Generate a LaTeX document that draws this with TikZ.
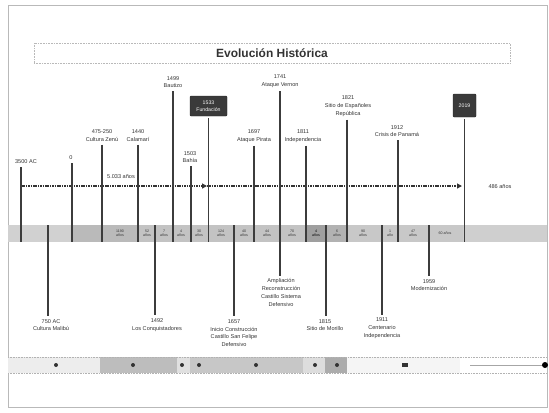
\documentclass[tikz,border=0pt]{standalone}
\usepackage{fontspec}
\setmainfont{Liberation Sans}
\usetikzlibrary{arrows.meta}
\definecolor{linegray}{HTML}{3C3C3C}
\definecolor{txtgray}{HTML}{333333}
\definecolor{boxdark}{HTML}{3A3A3A}
\begin{document}
\begin{tikzpicture}[x=1bp,y=-1bp,
  evline/.style={draw=linegray,line width=1.6bp},
  lbl/.style={font=\fontsize{5.6}{7.8}\selectfont,text=txtgray,align=center,inner sep=0pt},
  seglbl/.style={font=\fontsize{3.6}{4.4}\selectfont,text=txtgray,align=center,inner sep=0pt},
  darkbox/.style={fill=boxdark,draw=black!85,rounded corners=1bp,text=white,
     font=\fontsize{5.2}{6.6}\selectfont,align=center,inner sep=0pt},
  axisline/.style={draw=txtgray,line width=1.2bp,dash pattern=on 1.6bp off 0.8bp,
     -{Triangle[length=5bp,width=5bp]}},
  dot/.style={fill=txtgray}]
\useasboundingbox (0,0) rectangle (549,412);
% frame
\draw[gray!55,line width=0.8bp] (8,5) rectangle (547,407);
% title
\node[draw=gray!55,densely dotted,line width=0.6bp,minimum width=476bp,minimum height=20bp,inner sep=0pt] (titlebox) at (272,53) {};
\node[font=\fontsize{12}{14}\selectfont\bfseries,text=txtgray] (title) at (titlebox.center) {Evolución Histórica};
% band
\fill[gray!36] (8,225) rectangle (72,242);
\fill[gray!54] (72,225) rectangle (138,242);
\fill[gray!47] (138,225) rectangle (306,242);
\fill[gray!75] (306,225) rectangle (326,242);
\fill[gray!60] (326,225) rectangle (347,242);
\fill[gray!43] (347,225) rectangle (463,242);
\fill[gray!38] (463,225) rectangle (547,242);
% segment labels
\node[seglbl] (s1) at (120,233) {1190\\años};
\node[seglbl] (s2) at (147,233) {52\\años};
\node[seglbl] (s3) at (164,233) {7\\años};
\node[seglbl] (s4) at (181,233) {4\\años};
\node[seglbl] (s5) at (199,233) {30\\años};
\node[seglbl] (s6) at (221,233) {124\\años};
\node[seglbl] (s7) at (244,233) {40\\años};
\node[seglbl] (s8) at (267,233) {44\\años};
\node[seglbl] (s9) at (292,233) {70\\años};
\node[seglbl,text=black] (s10) at (316,233) {4\\años};
\node[seglbl] (s11) at (337,233) {6\\años};
\node[seglbl] (s12) at (363,233) {90\\años};
\node[seglbl] (s13) at (390,233) {1\\año};
\node[seglbl] (s14) at (413,233) {47\\años};
\node[seglbl] (s15) at (445,233) {60 años};
% axis
\coordinate (a0) at (21,186);
\coordinate (a1) at (207,186);
\coordinate (a2) at (462,186);
\draw[axisline] (a0) -- (a1);
\draw[axisline] (a1) -- (a2);
\node[lbl] (span1) at (121,177) {5.033 años};
\node[lbl] (span2) at (500,187) {486 años};
% top events
\node[lbl] (t1) at (26,162) {3500 AC};
\node[lbl] (t2) at (71,158) {0};
\node[lbl] (t3) at (102,135.5) {475-250\\Cultura Zenú};
\node[lbl] (t4) at (138,135.5) {1440\\Calamarí};
\node[lbl] (t5) at (173,82) {1499\\Bautizo};
\node[lbl] (t6) at (190,157) {1503\\Bahía};
\node[darkbox,minimum width=37bp,minimum height=20bp] (bx1) at (208.5,106) {1533\\Fundación};
\node[lbl] (t8) at (254,136) {1697\\Ataque Pirata};
\node[lbl] (t9) at (280,81.5) {1741\\Ataque Vernon};
\node[lbl] (t10) at (303,136) {1811\\Independencia};
\node[lbl] (t11) at (348,106) {1821\\Sitio de Españoles\\República};
\node[lbl] (t12) at (397,131) {1912\\Crisis de Panamá};
\node[darkbox,minimum width=23bp,minimum height=23bp] (bx2) at (464.5,105.5) {2019};
\coordinate (e1) at (21,242);
\coordinate (e2) at (72,242);
\coordinate (e3) at (102,242);
\coordinate (e4) at (138,242);
\coordinate (e5) at (173,242);
\coordinate (e6) at (191,242);
\coordinate (e8) at (254,242);
\coordinate (e10) at (306,242);
\coordinate (e11) at (347,242);
\coordinate (e12) at (398,242);
\draw[evline,shorten <=3bp] (e1 |- t1.south) -- (e1);
\draw[evline,shorten <=3bp] (e2 |- t2.south) -- (e2);
\draw[evline,shorten <=3bp] (e3 |- t3.south) -- (e3);
\draw[evline,shorten <=3bp] (e4 |- t4.south) -- (e4);
\draw[evline,shorten <=3bp] (e5 |- t5.south) -- (e5);
\draw[evline,shorten <=3bp] (e6 |- t6.south) -- (e6);
\draw[evline,shorten <=2bp] (bx1.south) -- (bx1.south |- e1);
\draw[evline,shorten <=3bp] (e8 |- t8.south) -- (e8);
\draw[evline,shorten <=3bp] (e10 |- t10.south) -- (e10);
\draw[evline,shorten <=3bp] (e11 |- t11.south) -- (e11);
\draw[evline,shorten <=3bp] (e12 |- t12.south) -- (e12);
\draw[evline,shorten <=2bp] (bx2.south) -- (bx2.south |- e1);
% bottom events
\node[lbl] (b1) at (51,325) {750 AC\\Cultura Malibú};
\node[lbl] (b2) at (157,325) {1492\\Los Conquistadores};
\node[lbl] (b3) at (234,333) {1657\\Inicio Construcción\\Castillo San Felipe\\Defensivo};
\node[lbl] (b4) at (281,292.5) {Ampliación\\Reconstrucción\\Castillo Sistema\\Defensivo};
\node[lbl] (b5) at (325,325) {1815\\Sitio de Morillo};
\node[lbl] (b6) at (382,328) {1911\\Centenario\\Independencia};
\node[lbl] (b7) at (429,285) {1959\\Modernización};
\coordinate (f1) at (48,225);
\coordinate (f2) at (155,225);
\coordinate (f3) at (234,225);
\coordinate (f5) at (326,225);
\coordinate (f6) at (382,225);
\coordinate (f7) at (429,225);
\draw[evline,shorten >=3bp] (f1) -- (f1 |- b1.north);
\draw[evline,shorten >=3bp] (f2) -- (f2 |- b2.north);
\draw[evline,shorten >=3bp] (f3) -- (f3 |- b3.north);
\draw[evline,shorten >=3bp] (f5) -- (f5 |- b5.north);
\draw[evline,shorten >=3bp] (f6) -- (f6 |- b6.north);
\draw[evline,shorten >=3bp] (f7) -- (f7 |- b7.north);
\draw[evline,shorten <=3bp,shorten >=3bp] (t9.south) -- (t9.south |- b4.north);
% bottom bar
\fill[gray!14] (8,357) rectangle (100,373);
\fill[gray!52] (100,357) rectangle (177,373);
\fill[gray!24] (177,357) rectangle (190,373);
\fill[gray!44] (190,357) rectangle (303,373);
\fill[gray!27] (303,357) rectangle (325,373);
\fill[gray!65] (325,357) rectangle (347,373);
\fill[gray!8] (347,357) rectangle (460,373);
\draw[gray!60,densely dotted,line width=0.6bp] (8,357) -- (547,357);
\draw[gray!60,densely dotted,line width=0.6bp] (8,373) -- (547,373);
\foreach \xx in {56,133,182,199,256,315,337}
  \fill[dot] (\xx,365) circle (2bp);
\fill[txtgray] (402,363) rectangle (408,367);
\draw[gray!70,line width=0.6bp] (470,365) -- (543,365);
\fill[black] (545,365) circle (3bp);
\end{tikzpicture}
\end{document}
